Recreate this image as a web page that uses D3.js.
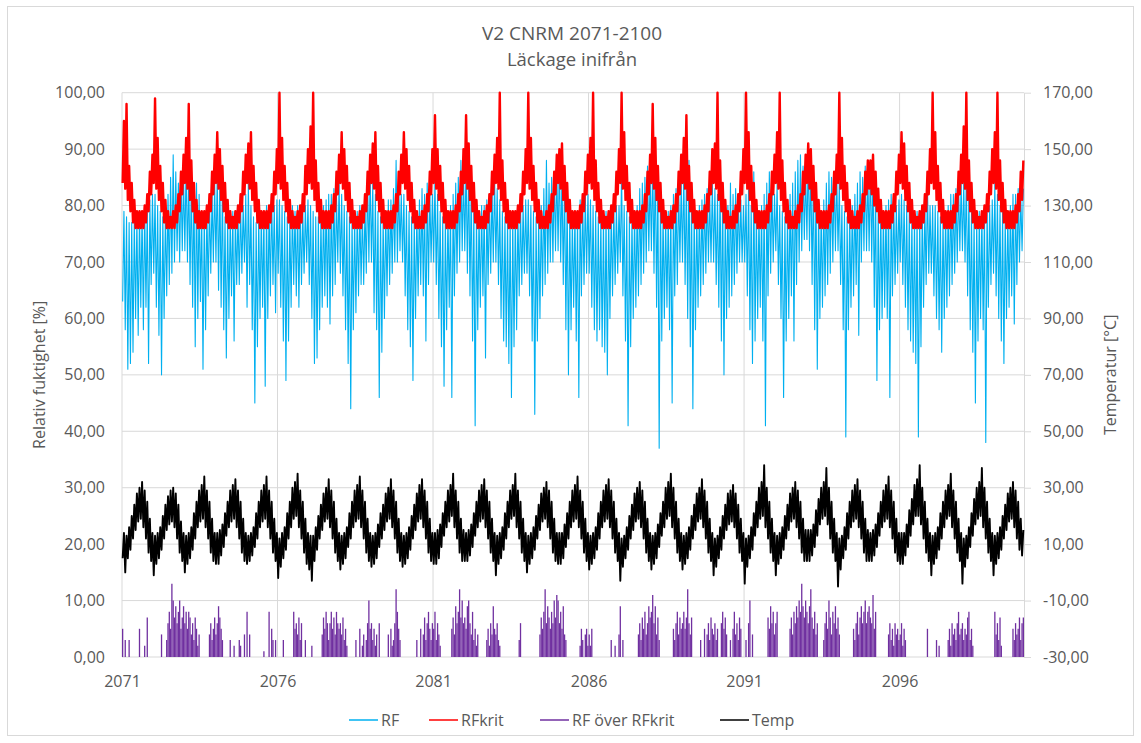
<!DOCTYPE html>
<html><head><meta charset="utf-8">
<script src="https://cdn.jsdelivr.net/npm/d3@7"></script>
<style>
body{margin:0;background:#fff}
svg{display:block}
text{font-family:"Open Sans","Noto Sans",sans-serif;fill:#595959}
</style>
</head><body>
<svg id="chart" width="1141" height="743"></svg>
<script>
// ---------- data (24 values per year = monthly low/high pairs) ----------
const title = "V2 CNRM 2071-2100";
const subtitle = "Läckage inifrån";
const seriesNames = ["RF", "RFkrit", "RF över RFkrit", "Temp"];
const startYear = 2071, endYear = 2100, valuesPerYear = 24;
const xTickYears = [2071, 2076, 2081, 2086, 2091, 2096];
const leftTicks = [0, 10, 20, 30, 40, 50, 60, 70, 80, 90, 100];
const rightTicks = [-30, -10, 10, 30, 50, 70, 90, 110, 130, 150, 170];

// RF [%]
const rf = [
63,79,58,78,51,77,52,77,54,78,60,78,57,79,62,79,58,80,62,80,52,81,66,82, // 2071
68,82,62,80,57,79,50,78,60,79,64,82,66,85,68,89,70,86,72,84,70,86,72,85, // 2072
72,88,70,86,66,85,62,84,55,84,60,82,63,79,51,79,58,80,64,81,68,82,70,84, // 2073
70,86,65,85,62,84,58,78,53,78,60,78,64,79,56,79,66,79,66,80,68,80,70,82, // 2074
62,84,66,80,58,78,45,77,55,78,60,79,62,79,48,80,60,80,64,82,66,80,61,81, // 2075
68,81,62,80,56,79,49,78,56,78,62,80,66,79,64,80,62,80,66,79,68,80,70,81, // 2076
66,80,60,79,52,78,53,78,58,78,62,80,64,81,62,82,59,82,64,83,66,82,70,84, // 2077
68,82,64,80,58,79,52,78,44,78,58,78,61,79,64,80,66,79,66,80,68,85,70,86, // 2078
70,84,61,82,58,79,46,78,54,78,60,79,64,81,66,81,68,83,70,88,70,84,72,82, // 2079
70,82,64,80,58,79,55,78,49,78,60,79,64,81,66,83,64,82,56,84,66,83,70,82, // 2080
70,85,66,82,60,79,55,78,48,78,58,79,62,80,46,82,64,84,68,85,70,88,72,86, // 2081
72,88,68,87,64,84,56,80,41,79,58,79,62,80,64,80,53,81,66,82,68,83,70,85, // 2082
70,83,66,81,60,79,56,78,55,78,52,78,46,78,55,79,58,79,64,80,66,80,68,81, // 2083
68,81,64,80,56,79,43,78,56,78,60,80,64,83,66,88,68,84,70,85,70,86,72,87, // 2084
72,89,70,86,66,85,58,82,50,79,58,78,62,79,56,79,46,81,64,81,66,82,68,82, // 2085
68,81,62,80,58,79,56,78,58,78,55,78,54,79,50,79,60,79,64,80,66,80,68,80, // 2086
70,86,64,80,56,79,41,78,55,78,60,79,62,80,64,83,66,84,68,85,70,87,72,86, // 2087
72,88,68,89,62,85,37,82,56,79,60,78,62,79,58,80,45,82,64,83,66,84,70,84, // 2088
70,86,66,85,60,88,55,82,44,80,58,79,62,80,64,81,66,82,68,83,70,82,70,84, // 2089
70,83,66,82,62,84,56,83,50,80,60,80,62,84,64,82,66,83,68,82,70,81,70,80, // 2090
70,82,64,84,58,80,52,86,56,79,60,79,62,80,56,82,41,84,64,86,68,84,70,82, // 2091
72,84,66,80,60,79,46,78,56,79,60,82,64,84,56,86,66,88,70,89,72,87,74,86, // 2092
74,90,72,88,66,86,58,84,51,80,60,79,62,81,64,84,66,86,68,85,70,86,72,86, // 2093
72,84,66,80,58,79,39,78,58,79,62,80,64,82,66,84,57,86,70,85,72,87,72,86, // 2094
72,88,70,87,62,84,49,80,58,79,60,79,62,80,60,81,46,82,64,81,66,80,68,81, // 2095
70,82,66,81,62,80,58,79,56,78,54,78,52,79,39,79,55,80,62,80,66,84,68,80, // 2096
68,80,64,80,60,79,58,78,54,78,60,79,62,80,64,82,66,82,68,83,70,84,72,84, // 2097
72,84,70,85,64,82,58,79,54,78,45,78,56,79,60,79,58,80,38,80,62,80,66,81, // 2098
68,84,64,82,60,80,56,79,52,78,60,79,62,80,64,82,59,82,66,83,70,82,72,83  // 2099
];

// RFkrit [%]
const rfkrit = [
84,95,83,98,81,87,79,84,77,81,76,79,76,79,76,79,76,80,77,82,79,86,82,89, // 2071
84,99,83,92,81,87,79,84,77,81,76,79,76,78,76,79,76,80,77,82,79,86,82,89, // 2072
84,92,83,98,81,88,79,84,77,81,76,79,76,79,76,79,76,80,77,82,79,86,82,89, // 2073
84,93,83,90,81,87,79,84,77,81,76,79,76,78,76,79,76,80,77,82,79,86,82,89, // 2074
84,91,83,93,81,87,79,84,77,81,76,79,76,79,76,79,76,80,77,82,79,86,82,90, // 2075
84,100,83,92,81,87,79,84,77,81,76,79,76,78,76,79,76,80,77,82,79,87,82,90, // 2076
84,94,83,100,81,88,79,84,77,81,76,79,76,79,76,79,76,80,77,82,79,86,82,89, // 2077
84,93,83,90,81,87,79,84,77,81,76,79,76,78,76,79,76,80,77,82,79,86,82,89, // 2078
84,91,83,93,81,87,79,84,77,81,76,79,76,79,76,79,76,80,77,82,79,86,82,89, // 2079
84,93,83,90,81,87,79,84,77,81,76,79,76,78,76,79,76,80,77,82,79,86,82,90, // 2080
84,96,83,90,81,87,79,84,77,81,76,79,76,79,76,79,76,80,77,82,79,86,82,90, // 2081
84,96,83,91,81,87,79,84,77,81,76,79,76,78,76,79,76,80,77,82,79,86,82,89, // 2082
84,92,83,100,81,88,79,84,77,81,76,79,76,79,76,79,76,80,77,82,79,86,82,90, // 2083
84,100,83,92,81,87,79,84,77,81,76,79,76,78,76,79,76,80,77,82,79,86,82,89, // 2084
84,90,83,91,81,87,79,84,77,81,76,79,76,79,76,79,76,80,77,82,79,86,82,89, // 2085
84,92,83,100,81,88,79,84,77,81,76,79,76,78,76,79,76,80,77,82,79,86,82,90, // 2086
84,100,83,93,81,87,79,84,77,81,76,79,76,79,76,79,76,80,77,82,79,86,82,89, // 2087
84,98,83,92,81,87,79,84,77,81,76,79,76,78,76,79,76,80,77,82,79,86,82,89, // 2088
84,92,83,96,81,87,79,84,77,81,76,79,76,79,76,79,76,80,77,82,79,86,82,90, // 2089
84,91,83,100,81,88,79,84,77,81,76,79,76,78,76,79,76,80,77,82,79,86,82,90, // 2090
84,100,83,93,81,87,79,84,77,81,76,79,76,79,76,79,76,80,77,82,79,86,82,89, // 2091
84,93,83,100,81,88,79,84,77,81,76,79,76,78,76,79,76,80,77,82,79,86,82,89, // 2092
84,91,83,90,81,87,79,84,77,81,76,79,76,79,76,79,76,80,77,82,79,86,82,89, // 2093
84,100,83,92,81,87,79,84,77,81,76,79,76,78,76,79,76,80,77,82,79,86,82,88, // 2094
83,88,82,89,80,86,79,83,77,81,76,79,76,79,76,79,76,80,77,82,79,86,82,89, // 2095
84,93,83,91,81,87,79,84,77,81,76,79,76,78,76,79,76,80,77,82,79,86,82,90, // 2096
84,100,83,93,81,87,79,84,77,81,76,79,76,79,76,79,76,80,77,82,79,86,82,89, // 2097
84,94,83,100,81,88,79,84,77,81,76,79,76,78,76,79,76,80,77,82,79,86,82,90, // 2098
84,93,83,100,81,88,79,84,77,81,76,79,76,79,76,79,76,80,77,82,79,86,81,88  // 2099
];

// RF över RFkrit [%] (half-monthly peaks)
const rfOver = [
5,0,3,0,0,3,0,0,0,0,0,0,0,5,0,0,0,2,0,7,0,0,0,0, // 2071
0,0,0,0,0,0,4,0,0,0,3,6,8,5,13,10,7,9,6,8,10,5,7,9, // 2072
6,8,5,8,7,4,6,3,7,5,2,4,0,0,0,0,0,0,0,4,6,3,5,7, // 2073
4,6,9,7,5,3,0,0,0,0,0,3,0,0,2,0,0,0,3,2,0,0,4,0, // 2074
8,0,4,0,0,0,0,0,0,0,0,0,0,1,0,0,0,8,0,5,3,0,3,0, // 2075
0,0,0,0,3,0,0,0,0,0,0,0,8,5,6,4,7,3,6,0,0,3,0,0, // 2076
0,0,2,0,0,0,0,0,0,0,4,7,5,8,6,3,6,8,5,7,4,8,6,5, // 2077
6,4,7,3,5,2,0,0,0,0,0,0,3,0,0,5,0,2,4,0,3,6,10,5, // 2078
6,3,5,2,4,0,6,0,0,0,0,0,0,4,0,5,2,3,6,12,8,5,3,0, // 2079
0,0,0,0,0,0,0,0,0,0,0,3,0,0,5,0,4,7,3,6,8,5,3,6, // 2080
5,8,3,6,4,2,0,0,0,0,0,0,0,0,5,7,4,9,6,8,12,7,10,6, // 2081
7,5,9,10,6,4,8,3,5,2,4,0,0,0,0,0,0,3,5,2,6,4,9,5, // 2082
4,6,3,2,0,0,0,0,0,0,0,0,0,0,0,0,0,0,3,6,0,0,0,0, // 2083
0,0,0,0,0,0,0,0,0,0,4,7,5,8,12,6,9,7,5,8,6,10,7,11, // 2084
10,6,8,5,9,4,3,0,0,0,0,0,0,0,0,0,0,2,5,3,0,4,5,2, // 2085
4,2,5,0,0,0,0,0,0,0,0,0,0,0,0,0,0,3,0,0,2,0,0,4, // 2086
9,0,3,0,0,0,0,0,0,0,0,0,0,0,4,6,3,7,5,8,4,6,9,7, // 2087
8,11,6,9,4,7,3,0,0,0,0,0,0,0,0,0,0,5,3,6,8,4,7,5, // 2088
6,8,5,7,12,6,4,7,0,0,0,0,0,0,3,0,0,5,0,4,6,3,7,5, // 2089
4,6,3,5,0,0,6,8,5,7,4,0,0,3,0,5,8,4,6,3,7,5,0,0, // 2090
0,3,0,6,10,0,4,0,0,0,0,0,0,0,0,0,0,0,7,5,9,6,8,4, // 2091
6,8,0,0,0,0,0,0,0,0,0,5,7,4,8,6,9,7,10,8,13,9,7,10, // 2092
8,6,9,12,7,5,8,4,6,0,0,0,0,3,6,8,5,10,7,4,8,6,9,5, // 2093
7,4,0,0,0,0,0,0,0,0,0,0,5,3,6,8,4,7,9,6,8,10,6,8, // 2094
9,7,6,11,5,8,0,0,0,0,0,0,0,0,0,4,6,3,5,2,6,4,5,3, // 2095
4,6,2,5,3,0,0,0,0,0,0,0,0,0,0,0,0,0,0,0,0,5,0,0, // 2096
0,0,0,0,3,0,2,0,0,0,0,0,0,3,5,2,6,4,5,3,6,8,4,5, // 2097
6,3,5,4,7,8,3,5,2,0,0,0,0,0,0,0,0,0,0,0,0,0,0,0, // 2098
0,8,4,6,3,7,2,0,0,0,0,0,0,0,0,5,3,6,4,5,7,3,6,7  // 2099
];

// Temp [°C] (right axis)
const temp = [
5,14,0,13,5,16,8,20,12,24,15,28,18,30,19,32,16,29,12,25,7,19,4,14, // 2071
-1,13,3,14,5,16,8,20,12,24,15,27,17,29,18,30,16,28,12,24,7,18,4,14, // 2072
0,13,3,14,5,16,8,21,12,25,16,29,18,31,19,34,16,29,12,25,7,19,4,14, // 2073
3,14,3,15,6,17,9,21,13,25,16,29,18,31,19,33,16,29,12,25,7,19,4,14, // 2074
3,13,4,14,6,16,9,21,12,25,16,29,18,31,19,34,16,29,12,25,7,19,4,14, // 2075
-2,12,2,14,5,16,8,21,12,25,16,30,19,32,20,35,16,29,12,25,7,19,3,14, // 2076
1,13,-3,13,4,16,8,20,12,24,15,28,18,30,19,33,16,29,12,25,7,19,4,14, // 2077
1,13,3,14,5,16,9,21,12,25,16,29,18,31,19,34,16,29,12,25,7,19,4,14, // 2078
2,13,3,14,5,17,9,21,12,24,15,28,18,30,19,33,16,29,12,25,7,19,4,14, // 2079
2,13,3,14,5,16,8,20,12,24,15,28,18,31,19,33,16,29,12,25,7,19,4,14, // 2080
3,14,3,15,5,17,9,21,13,25,16,29,18,31,20,35,16,29,12,25,7,19,4,15, // 2081
4,14,4,15,6,17,9,21,13,25,16,29,18,31,19,33,16,29,12,25,7,19,4,14, // 2082
-1,13,3,14,5,16,8,21,12,25,16,29,19,31,20,35,16,29,12,25,7,19,4,14, // 2083
0,13,3,14,5,16,8,20,12,24,15,28,18,30,19,32,16,29,12,25,7,19,4,14, // 2084
3,14,3,14,5,17,9,21,12,25,16,29,18,31,19,34,16,29,12,25,7,19,4,14, // 2085
1,13,3,14,5,16,8,21,12,25,16,29,18,31,19,33,16,29,12,25,7,19,4,14, // 2086
-3,12,2,13,5,16,8,20,12,24,15,28,18,30,19,32,16,29,12,25,7,19,4,14, // 2087
1,13,3,14,5,17,9,21,13,25,16,30,19,32,20,35,16,30,12,25,7,19,4,14, // 2088
1,13,3,14,5,16,8,20,12,24,15,28,18,30,19,33,16,29,12,25,7,19,4,14, // 2089
-1,12,2,13,5,16,8,20,12,24,15,28,17,29,18,31,16,28,12,24,7,19,4,14, // 2090
-4,12,2,13,5,16,8,21,13,25,16,30,19,32,20,38,16,30,12,25,7,19,4,14, // 2091
-1,13,3,14,5,16,8,20,12,24,15,28,18,30,19,32,16,29,12,25,7,19,4,15, // 2092
4,15,4,15,6,17,9,22,13,26,17,30,19,32,20,37,17,30,12,25,7,19,4,14, // 2093
-5,12,1,13,5,16,8,21,12,25,16,29,18,31,19,33,16,29,12,25,7,19,4,15, // 2094
4,14,4,15,6,17,9,21,13,25,16,29,18,31,19,34,16,29,12,25,7,19,4,14, // 2095
3,14,3,14,6,17,9,22,13,26,17,31,20,33,20,38,17,30,12,25,7,19,4,14, // 2096
-1,13,3,14,5,16,8,21,12,25,16,29,19,31,20,35,16,29,12,25,7,19,4,14, // 2097
-4,12,2,13,5,16,9,21,13,26,17,30,19,32,20,37,16,30,12,25,7,19,4,14, // 2098
-1,13,3,14,5,16,8,20,12,24,15,28,18,30,19,32,16,29,12,25,8,19,6,15  // 2099
];

// ---------- chart ----------
const W = 1141, H = 743;
const plot = {left: 122, right: 1024, top: 92.7, bottom: 657};
const colors = {rf: "#00B0F0", rfkrit: "#FF0000", over: "#7030A0", temp: "#000000", grid: "#d9d9d9"};

const svg = d3.select("#chart");
svg.append("rect").attr("x", 7.5).attr("y", 6.5).attr("width", W - 15).attr("height", H - 14)
  .attr("fill", "#fff").attr("stroke", colors.grid).attr("stroke-width", 1);

const x = d3.scaleLinear().domain([startYear, endYear]).range([plot.left, plot.right]);
const yL = d3.scaleLinear().domain([0, 100]).range([plot.bottom, plot.top]);
const yR = d3.scaleLinear().domain([-30, 170]).range([plot.bottom, plot.top]);
const tOf = i => startYear + (i + 0.5) / valuesPerYear;
const fmt = d => d.toFixed(2).replace(".", ",");

// gridlines
svg.append("g").selectAll("line").data(leftTicks).join("line")
  .attr("x1", plot.left).attr("x2", plot.right)
  .attr("y1", d => yL(d)).attr("y2", d => yL(d))
  .attr("stroke", colors.grid).attr("stroke-width", 1);
svg.append("g").selectAll("line").data(xTickYears).join("line")
  .attr("x1", d => x(d)).attr("x2", d => x(d))
  .attr("y1", plot.top).attr("y2", plot.bottom)
  .attr("stroke", colors.grid).attr("stroke-width", 1);

// axes
const gL = svg.append("g").attr("transform", `translate(${plot.left},0)`)
  .call(d3.axisLeft(yL).tickValues(leftTicks).tickFormat(fmt).tickSize(0).tickPadding(17));
gL.select(".domain").remove();
const gR = svg.append("g").attr("transform", `translate(${plot.right},0)`)
  .call(d3.axisRight(yR).tickValues(rightTicks).tickFormat(fmt).tickSize(7).tickSizeOuter(0).tickPadding(12));
gR.select(".domain").attr("stroke", colors.grid);
gR.selectAll(".tick line").attr("stroke", colors.grid);
const gB = svg.append("g").attr("transform", `translate(0,${plot.bottom})`)
  .call(d3.axisBottom(x).tickValues(xTickYears).tickFormat(d3.format("d")).tickSize(0).tickPadding(19));
gB.select(".domain").remove();
svg.selectAll(".tick text").attr("font-family", '"Open Sans","Noto Sans",sans-serif')
  .attr("font-size", 16).attr("fill", "#595959");

// series
const lineL = d3.line().x((d, i) => x(tOf(i))).y(d => yL(d));
const lineR = d3.line().x((d, i) => x(tOf(i))).y(d => yR(d));
svg.append("path").datum(rf).attr("d", lineL).attr("fill", "none")
  .attr("stroke", colors.rf).attr("stroke-width", 1.1).attr("stroke-linejoin", "round");
svg.append("path").datum(rfkrit).attr("d", lineL).attr("fill", "none")
  .attr("stroke", colors.rfkrit).attr("stroke-width", 2.4).attr("stroke-linejoin", "round");
svg.append("g").selectAll("line").data(rfOver.map((v, i) => ({v, i})).filter(d => d.v > 0)).join("line")
  .attr("x1", d => x(tOf(d.i))).attr("x2", d => x(tOf(d.i)))
  .attr("y1", yL(0)).attr("y2", d => yL(d.v))
  .attr("stroke", colors.over).attr("stroke-width", 1.3);
svg.append("path").datum(temp).attr("d", lineR).attr("fill", "none")
  .attr("stroke", colors.temp).attr("stroke-width", 1.9).attr("stroke-linejoin", "round");

// titles
svg.append("text").attr("x", 572).attr("y", 40).attr("text-anchor", "middle")
  .attr("font-size", 19).text(title);
svg.append("text").attr("x", 572).attr("y", 66).attr("text-anchor", "middle")
  .attr("font-size", 18.5).text(subtitle);
const midY = (plot.top + plot.bottom) / 2;
svg.append("text").attr("transform", `translate(45,${midY}) rotate(-90)`)
  .attr("text-anchor", "middle").attr("font-size", 16).text("Relativ fuktighet [%]");
svg.append("text").attr("transform", `translate(1116,${midY}) rotate(-90)`)
  .attr("text-anchor", "middle").attr("font-size", 16).text("Temperatur [°C]");

// legend
const legendColors = [colors.rf, colors.rfkrit, colors.over, colors.temp];
const legendX = [349, 429, 540, 720];
const lg = svg.append("g");
seriesNames.forEach((name, k) => {
  lg.append("line").attr("x1", legendX[k]).attr("x2", legendX[k] + 29)
    .attr("y1", 720).attr("y2", 720).attr("stroke", legendColors[k]).attr("stroke-width", 1.5);
  lg.append("text").attr("x", legendX[k] + 32).attr("y", 726).attr("font-size", 16).text(name);
});
</script>
</body></html>
